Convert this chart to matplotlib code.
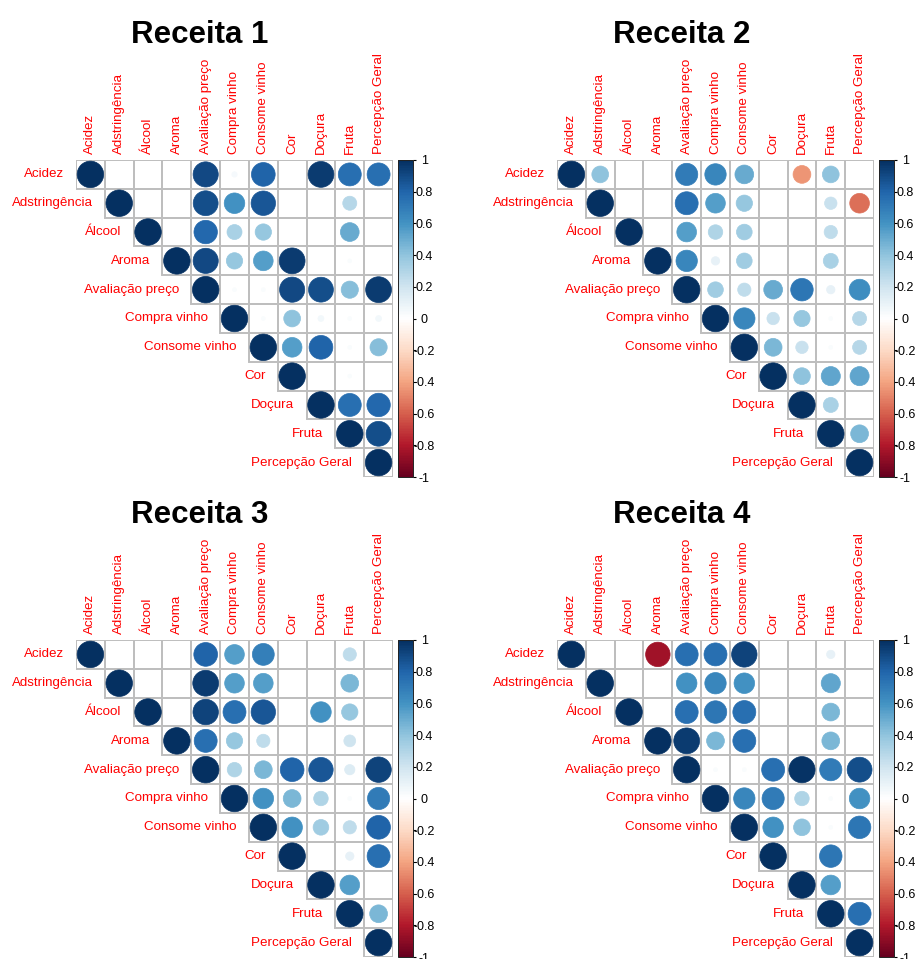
import numpy as np
import matplotlib
matplotlib.use("Agg")
import matplotlib.pyplot as plt
from matplotlib.patches import Circle, Rectangle
from matplotlib.colors import LinearSegmentedColormap, Normalize
from matplotlib.cm import ScalarMappable

plt.rcParams['font.family'] = ['Liberation Sans', 'DejaVu Sans']

variables = ["Acidez", "Adstringência", "Álcool", "Aroma", "Avaliação preço",
             "Compra vinho", "Consome vinho", "Cor", "Doçura", "Fruta", "Percepção Geral"]

titles = ["Receita 1", "Receita 2", "Receita 3", "Receita 4"]

N = None
# upper triangle rows (diagonal included); None = blank (non-significant)
receita1 = [
    [1, N, N, N, 0.90, 0.04, 0.80, N, 0.95, 0.75, 0.75],
    [1, N, N, 0.88, 0.60, 0.85, N, N, 0.28, N],
    [1, N, 0.78, 0.32, 0.38, N, N, 0.50, N],
    [1, 0.90, 0.38, 0.55, 0.95, N, 0.02, N],
    [1, 0.02, 0.02, 0.90, 0.88, 0.42, 0.95],
    [1, 0.02, 0.40, 0.05, 0.02, 0.05],
    [1, 0.55, 0.80, 0.02, 0.42],
    [1, N, 0.02, N],
    [1, 0.75, 0.78],
    [1, 0.88],
    [1],
]
receita2 = [
    [1, 0.40, N, N, 0.70, 0.65, 0.50, N, -0.45, 0.40, N],
    [1, N, N, 0.75, 0.55, 0.38, N, N, 0.22, -0.55],
    [1, N, 0.55, 0.30, 0.35, N, N, 0.25, N],
    [1, 0.65, 0.10, 0.35, N, N, 0.32, N],
    [1, 0.35, 0.25, 0.50, 0.72, 0.10, 0.62],
    [1, 0.65, 0.22, 0.38, 0.02, 0.28],
    [1, 0.45, 0.22, 0.02, 0.28],
    [1, 0.40, 0.52, 0.52],
    [1, 0.32, N],
    [1, 0.45],
    [1],
]
receita3 = [
    [1, N, N, N, 0.80, 0.55, 0.68, N, N, 0.25, N],
    [1, N, N, 0.95, 0.55, 0.55, N, N, 0.45, N],
    [1, N, 0.92, 0.75, 0.85, N, 0.60, 0.38, N],
    [1, 0.75, 0.38, 0.25, N, N, 0.20, N],
    [1, 0.30, 0.45, 0.80, 0.85, 0.15, 0.92],
    [1, 0.60, 0.45, 0.30, 0.02, 0.70],
    [1, 0.60, 0.35, 0.25, 0.80],
    [1, N, 0.10, 0.75],
    [1, 0.55, N],
    [1, 0.45],
    [1],
]
receita4 = [
    [1, N, N, -0.85, 0.75, 0.75, 0.92, N, N, 0.10, N],
    [1, N, N, 0.60, 0.65, 0.60, N, N, 0.52, N],
    [1, N, 0.75, 0.72, 0.75, N, N, 0.45, N],
    [1, 0.95, 0.45, 0.75, N, N, 0.45, N],
    [1, 0.02, 0.02, 0.75, 0.98, 0.70, 0.88],
    [1, 0.65, 0.70, 0.30, 0.02, 0.60],
    [1, 0.60, 0.40, 0.02, 0.72],
    [1, N, 0.72, N],
    [1, 0.55, N],
    [1, 0.75],
    [1],
]
all_data = [receita1, receita2, receita3, receita4]

cb_ticks = [1, 0.8, 0.6, 0.4, 0.2, 0, -0.2, -0.4, -0.6, -0.8, -1]
cb_labels = ["1", "0.8", "0.6", "0.4", "0.2", "0", "-0.2", "-0.4", "-0.6", "-0.8", "-1"]

cmap = LinearSegmentedColormap.from_list(
    "RdBu_corrplot",
    ["#67001F", "#B2182B", "#D6604D", "#F4A582", "#FDDBC7", "#FFFFFF",
     "#D1E5F0", "#92C5DE", "#4393C3", "#2166AC", "#053061"], N=200)
norm = Normalize(-1, 1)

W, H = 918, 959
fig = plt.figure(figsize=(W / 100, H / 100), dpi=100)

# pixel layout: (grid left, grid top, title center x, title baseline y)
layout = [(76, 160, 200, 43), (557, 160, 682, 43), (76, 640, 200, 523), (557, 640, 682, 523)]
grid_px = 317
n = len(variables)
lab_fs = 9.6

for k, (gl, gt, tx, ty) in enumerate(layout):
    data = all_data[k]
    ax = fig.add_axes([gl / W, 1 - (gt + grid_px) / H, grid_px / W, grid_px / H])
    ax.set_xlim(0, n)
    ax.set_ylim(n, 0)
    ax.set_aspect('auto')
    for s in ax.spines.values():
        s.set_visible(False)
    ax.set_yticks([])
    ax.xaxis.tick_top()
    ax.set_xticks(np.arange(n) + 0.5)
    ax.set_xticklabels(variables, rotation=90, color='#FF0000', fontsize=lab_fs)
    ax.tick_params(axis='x', length=0, pad=4)
    for i in range(n):
        row = data[i]
        for jj, v in enumerate(row):
            j = i + jj
            ax.add_patch(Rectangle((j, i), 1, 1, facecolor='none', edgecolor='#BEBEBE',
                                   lw=1.4, zorder=1))
            if v is None:
                continue
            r = 0.46 * np.sqrt(abs(v))
            c = cmap(norm(v))
            ax.add_patch(Circle((j + 0.5, i + 0.5), r, facecolor=c, edgecolor=c,
                                lw=0.5, zorder=2))
        ax.text(i - 0.42, i + 0.5, variables[i], ha='right', va='center',
                color='#FF0000', fontsize=lab_fs)
    fig.text(tx / W, 1 - ty / H, titles[k], ha='center', va='baseline',
             fontsize=22.5, fontweight='bold')
    # colorbar
    cax = fig.add_axes([(gl + grid_px + 5) / W, 1 - (gt + grid_px) / H, 15 / W, grid_px / H])
    sm = ScalarMappable(norm=norm, cmap=cmap)
    cb = fig.colorbar(sm, cax=cax)
    cb.outline.set_edgecolor('#222222')
    cb.outline.set_linewidth(0.7)
    cb.set_ticks(cb_ticks)
    cb.set_ticklabels(cb_labels)
    cax.tick_params(labelsize=9, length=2.5, width=0.8, pad=5.5)
    for t in cax.get_yticklabels():
        t.set_horizontalalignment('center')

fig.savefig("out.png", dpi=100)
